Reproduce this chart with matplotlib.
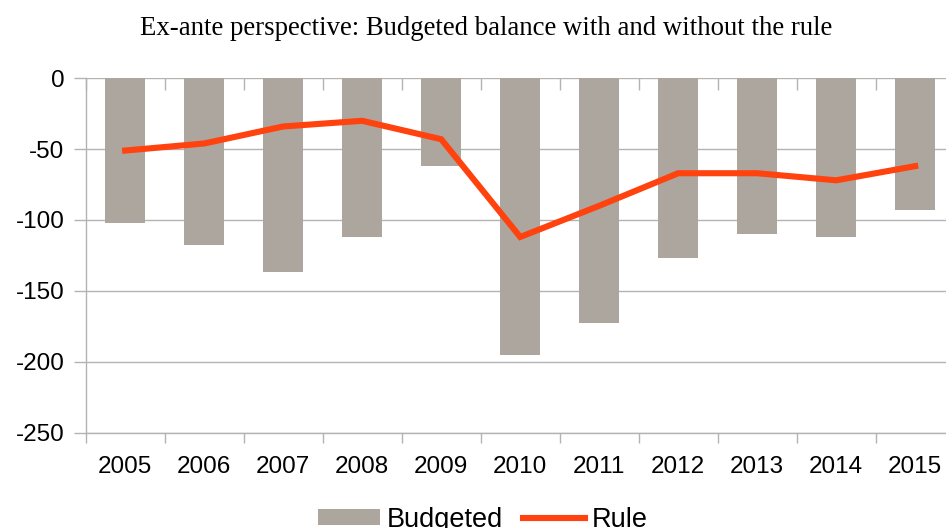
import matplotlib
matplotlib.use("Agg")
import matplotlib.pyplot as plt
import numpy as np

years = ["2005", "2006", "2007", "2008", "2009", "2010", "2011", "2012", "2013", "2014", "2015"]
budgeted = [-102, -118, -137, -112, -62, -195, -173, -127, -110, -112, -93]
rule = [-51, -46, -34, -30, -43, -112, -90, -67, -67, -72, -62]
yticks = [0, -50, -100, -150, -200, -250]

plt.rcParams['font.family'] = ['Liberation Sans', 'DejaVu Sans']

W, H = 946, 528
fig = plt.figure(figsize=(W / 100, H / 100), dpi=100)
left, right = 85.7, 954.7
top, bottom = 78.3, 432.5
ax = fig.add_axes([left / W, 1 - bottom / H, (right - left) / W, (bottom - top) / H])

x = np.arange(len(years))
bar_col = "#ADA69F"
line_col = "#FF420E"
bars = ax.bar(x, budgeted, width=0.505, color=bar_col, zorder=2, label="Budgeted")
line, = ax.plot(x, rule, color=line_col, lw=4.4, zorder=3, label="Rule", solid_joinstyle="miter")

ax.set_xlim(-0.5, len(years) - 0.5)
ax.set_ylim(-250, 0)
ax.set_yticks(yticks)
ax.set_yticklabels([str(v) for v in yticks])
ax.yaxis.grid(True, color="#b3b3b3", lw=1.0, zorder=0)
ax.set_axisbelow(True)

# category ticks at boundaries
ax.set_xticks(np.arange(len(years) + 1) - 0.5)
ax.set_xticklabels([])
ax.set_xticks(x, minor=True)
ax.set_xticklabels(years, minor=True)
ax.tick_params(axis="x", which="major", direction="out", length=7.3, color="#b3b3b3", width=1)
ax.tick_params(axis="x", which="minor", length=0, labelsize=17.5, pad=17)
ax.tick_params(axis="y", direction="out", length=8.4, color="#b3b3b3", width=1, labelsize=17.5, pad=7)

secax = ax.secondary_xaxis("top")
secax.set_xticks(np.arange(len(years) + 1) - 0.5)
secax.set_xticklabels([])
secax.tick_params(direction="in", length=8.4, color="#b3b3b3", width=1)
secax.spines["top"].set_visible(False)

for s in ["top", "right"]:
    ax.spines[s].set_visible(False)
for s in ["left", "bottom"]:
    ax.spines[s].set_color("#b3b3b3")
    ax.spines[s].set_linewidth(1)

fig.text(486 / W, 1 - 35 / H, "Ex-ante perspective: Budgeted balance with and without the rule",
         ha="center", va="baseline", fontsize=19.3, family=["Liberation Serif", "DejaVu Serif"])

fig.legend(handles=[bars, line], labels=["Budgeted", "Rule"],
           loc="upper center", bbox_to_anchor=(483 / W, 1 - 493 / H), ncol=2, frameon=False,
           fontsize=19.5, handlelength=2.27, handleheight=0.56, handletextpad=0.25,
           columnspacing=0.75, borderpad=0)

fig.savefig("out.png", dpi=100)
